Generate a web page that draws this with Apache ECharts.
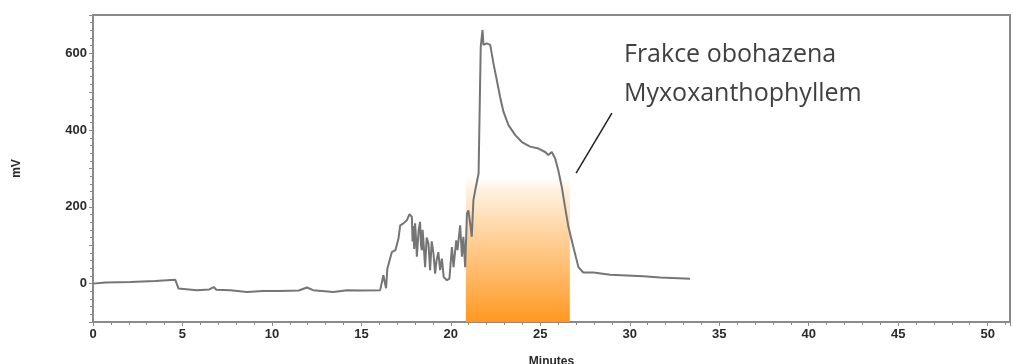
<!DOCTYPE html>
<html>
<head>
<meta charset="utf-8">
<script src="https://cdn.jsdelivr.net/npm/echarts@6/dist/echarts.min.js"></script>
<style>
html,body{margin:0;padding:0;background:#fff;}
#main{width:1013px;height:364px;}
</style>
</head>
<body>
<div id="main"></div>
<script>
// chromatogram trace
var minutes = [0,0.69,2.08,3.48,4.6,4.7,4.78,5.8,6.5,6.74,6.9,7.67,8.6,9.5,10.46,11.5,11.96,12.3,13.44,14.2,15.0,16.05,16.15,16.23,16.3,16.38,16.45,16.7,16.9,17.07,17.17,17.35,17.54,17.69,17.82,17.86,17.91,17.95,18.0,18.05,18.1,18.2,18.28,18.33,18.38,18.42,18.47,18.56,18.65,18.75,18.84,18.93,19.03,19.12,19.2,19.3,19.4,19.5,19.6,19.78,19.92,20.06,20.15,20.3,20.37,20.52,20.62,20.7,20.8,20.9,20.98,21.1,21.17,21.26,21.36,21.55,21.6,21.67,21.72,21.77,21.82,22.0,22.2,22.38,22.57,22.75,22.94,23.22,23.6,23.97,24.43,24.9,25.27,25.45,25.64,25.83,26.0,26.2,26.38,26.57,26.85,27.13,27.4,27.97,28.9,30.76,31.7,33.37];
var mv = [0,3,4,7,10,10,-13,-17,-15,-9,-16,-17,-22,-19,-19,-18,-10,-17,-22,-17,-18,-17,-17,22,5,-12,39,82,87,117,152,157,165,181,174,110,150,90,157,120,70,140,161,100,87,140,110,43,120,104,35,110,78,26,60,82,35,65,17,9,13,95,43,113,87,152,70,122,43,183,191,150,122,217,243,287,426,617,640,661,622,626,622,574,530,487,448,413,387,369,357,352,343,335,343,326,296,252,200,148,95,43,29,29,23,19,16,13];
var xTicks = [0,5,10,15,20,25,30,35,40,45,50];
var yTicks = [0,200,400,600];
var fraction = [20.84,26.65];
var fractionTop = 290;
var pointer = [[27.0,288],[29.0,444]];
var noteLines = ['Frakce obohazena','Myxoxanthophyllem'];

var trace = [];
for(var i=0;i<minutes.length;i++){
	trace.push([minutes[i],mv[i]]);
}

var axisFont = {fontFamily:'Liberation Sans',fontSize:13,fontWeight:'bold',color:'#2a2a2a'};

var myChart = echarts.init(document.getElementById('main'));
var option = {
	animation:false,
	backgroundColor:'#fff',
	grid:{left:93,right:3,top:15,bottom:42,outerBoundsMode:'none',containLabel:false,show:true,borderColor:'#8a8a8a',borderWidth:2,backgroundColor:'transparent'},
	xAxis:{
		type:'value',min:0,max:51.25,interval:5,
		name:'Minutes',nameLocation:'middle',nameGap:34,
		nameTextStyle:{fontFamily:'Liberation Sans',fontSize:12,fontWeight:'bold',color:'#2a2a2a'},
		axisLine:{onZero:false,lineStyle:{color:'#8a8a8a',width:2}},
		axisTick:{show:true,length:4,lineStyle:{color:'#8a8a8a'}},
		minorTick:{show:true,splitNumber:5,length:3,lineStyle:{color:'#8a8a8a'}},
		splitLine:{show:false},
		axisLabel:Object.assign({margin:6,formatter:function(v){return xTicks.indexOf(v)>=0?v:'';}},axisFont)
	},
	yAxis:{
		type:'value',min:-100,max:700,interval:100,
		name:'mV',nameLocation:'middle',nameGap:70,
		nameTextStyle:{fontFamily:'Liberation Sans',fontSize:12,fontWeight:'bold',color:'#2a2a2a'},
		axisLine:{show:true,onZero:false,lineStyle:{color:'#8a8a8a',width:2}},
		axisTick:{show:true,length:4,lineStyle:{color:'#8a8a8a'}},
		minorTick:{show:true,splitNumber:5,length:3,lineStyle:{color:'#8a8a8a'}},
		splitLine:{show:false},
		axisLabel:Object.assign({margin:6,formatter:function(v){return yTicks.indexOf(v)>=0?v:'';}},axisFont)
	},
	series:[{
		type:'line',
		data:trace,
		showSymbol:false,
		lineStyle:{color:'#757575',width:2},
		markArea:{
			silent:true,
			itemStyle:{
				color:new echarts.graphic.LinearGradient(0,0,0,1,[
					{offset:0,color:'rgba(255,255,255,0)'},
					{offset:0.1,color:'#fff3e4'},
					{offset:0.45,color:'#ffcf96'},
					{offset:0.75,color:'#ffb259'},
					{offset:1,color:'#ff981f'}
				])
			},
			data:[[{coord:[fraction[0],-100]},{coord:[fraction[1],fractionTop]}]]
		},
		markLine:{
			silent:true,
			symbol:['none','none'],
			label:{show:false},
			lineStyle:{color:'#222',width:1.5,type:'solid'},
			data:[[{coord:pointer[0]},{coord:pointer[1]}]]
		}
	}],
	graphic:[{
		type:'text',left:624,top:35,
		style:{text:noteLines.join('\n'),fontFamily:'Open Sans',fontSize:25,lineHeight:39,fill:'#404040'}
	}]
};
myChart.setOption(option);
</script>
</body>
</html>
